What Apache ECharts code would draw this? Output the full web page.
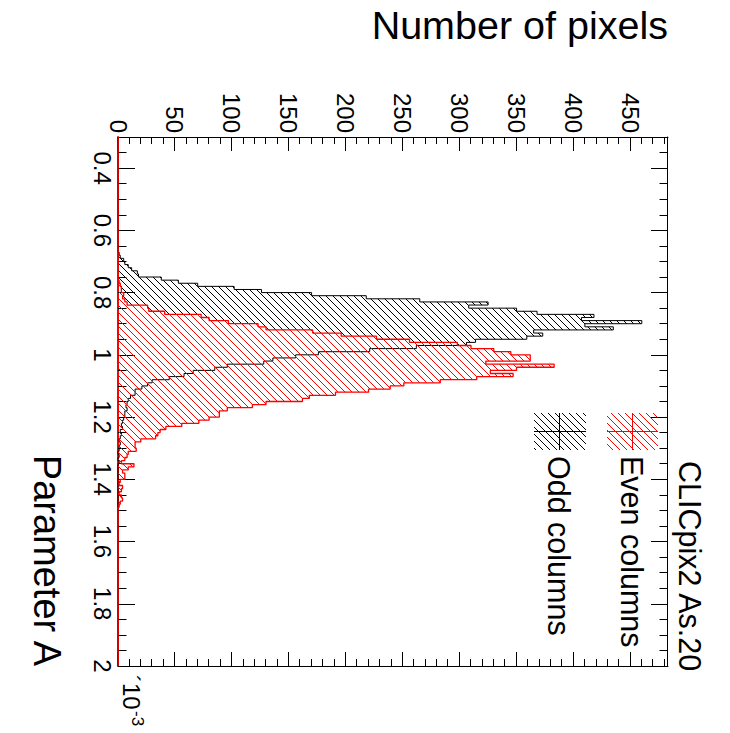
<!DOCTYPE html>
<html>
<head>
<meta charset="utf-8">
<script src="https://cdn.jsdelivr.net/npm/echarts@6/dist/echarts.min.js"></script>
<style>
  html, body { margin: 0; padding: 0; background: #fff; overflow: hidden; width: 730px; height: 733px; }
  /* The plot is laid out landscape (Parameter A along x) and turned a quarter clockwise. */
  #chart { position: absolute; left: 0; top: 0; width: 733px; height: 730px;
           transform-origin: 0 0; transform: translate(730px, 0) rotate(90deg); }
</style>
</head>
<body>
<div id="chart"></div>
<script>
// ---- Histogram binning: Parameter A (x 10^-3), 0.01 wide bins ----
const axisMin = 0.3;
const axisMax = 2.0;
const binWidth = 0.01;
const firstFilledBin = 0.66;   // low edge of the first entry in the count lists below

// Pixel counts per bin, starting at Parameter A = 0.66
const oddColumns = [
  0, 1, 2, 5, 6, 9, 12, 17, 18, 38,
  53, 70, 102, 126, 170, 218, 265, 325, 308, 350,
  368, 418, 407, 460, 410, 435, 365, 373, 359, 314,
  306, 262, 221, 176, 156, 136, 128, 96, 85, 66,
  58, 45, 30, 26, 21, 15, 15, 11, 9, 8,
  7, 8, 6, 6, 5, 4, 3, 4, 2, 3,
  2, 1, 2, 1, 1, 0, 1, 0, 1
];
const evenColumns = [
  0, 0, 0, 0, 0, 0, 0, 0, 0, 0,
  1, 2, 3, 3, 5, 4, 6, 8, 26, 27,
  41, 73, 80, 97, 123, 130, 171, 196, 227, 256,
  298, 310, 330, 345, 362, 362, 323, 383, 350, 327,
  347, 315, 283, 251, 239, 220, 191, 168, 162, 130,
  118, 96, 89, 89, 80, 71, 56, 42, 37, 35,
  33, 20, 15, 15, 16, 9, 8, 6, 3, 14,
  9, 4, 6, 6, 2, 1, 4, 3, 1, 3,
  4, 2, 1
];

// ---- Axis ticks ----
const paramTicks = [0.4, 0.6, 0.8, 1.0, 1.2, 1.4, 1.6, 1.8, 2.0];
const paramMinorTicks = [0.35, 0.45, 0.5, 0.55, 0.65, 0.7, 0.75, 0.85, 0.9, 0.95,
  1.05, 1.1, 1.15, 1.25, 1.3, 1.35, 1.45, 1.5, 1.55, 1.65, 1.7, 1.75, 1.85, 1.9, 1.95];
const countMax = 483;
const countTicks = [0, 50, 100, 150, 200, 250, 300, 350, 400, 450];
const countMinorTicks = [10, 20, 30, 40, 60, 70, 80, 90, 110, 120, 130, 140, 160, 170, 180, 190,
  210, 220, 230, 240, 260, 270, 280, 290, 310, 320, 330, 340, 360, 370, 380, 390,
  410, 420, 430, 440, 460, 470, 480];

const seriesNames = ['Odd columns', 'Even columns'];
const seriesColors = ['#000000', '#ff0000'];

const FONT = '"Liberation Sans", Arial, Helvetica, sans-serif';

// Step-histogram points: one point per bin low edge, plus the closing edge.
function histData(counts) {
  const nBins = Math.round((axisMax - axisMin) / binWidth);
  const offset = Math.round((firstFilledBin - axisMin) / binWidth);
  const pts = [];
  for (let i = 0; i < nBins; i++) {
    const k = i - offset;
    const c = (k >= 0 && k < counts.length) ? counts[k] : 0;
    pts.push([+(axisMin + i * binWidth).toFixed(4), c]);
  }
  pts.push([axisMax, pts[nBins - 1][1]]);
  return pts;
}

// Diagonal hatch fill
function hatch(color) {
  const s = 7;
  const cv = document.createElement('canvas');
  cv.width = s; cv.height = s;
  const g = cv.getContext('2d');
  g.fillStyle = color;
  for (let i = 0; i < s; i++) g.fillRect(i, s - 1 - i, 1, 1);
  return { image: cv, repeat: 'repeat' };
}

function tickAxis(kind, position, values, len, withLine, withLabels, lineColor) {
  const ax = {
    type: 'value',
    position: position,
    min: kind === 'x' ? axisMin : 0,
    max: kind === 'x' ? axisMax : countMax,
    z: 1,
    splitLine: { show: false },
    axisLine: { show: withLine, onZero: false,
                lineStyle: { color: lineColor || '#000', width: lineColor ? 2 : 1 } },
    axisTick: { show: true, inside: true, length: len, customValues: values,
                lineStyle: { color: '#000', width: 1 } },
    axisLabel: { show: false }
  };
  if (withLabels) {
    ax.axisLabel = kind === 'x'
      ? { show: true, customValues: values, margin: 4, color: '#000', fontSize: 24, fontFamily: FONT,
          formatter: v => String(+(+v).toFixed(1)) }
      : { show: true, customValues: values, margin: 4, color: '#000', fontSize: 24, fontFamily: FONT,
          formatter: v => String(Math.round(v)) };
  }
  return ax;
}

const chart = echarts.init(document.getElementById('chart'), null, { renderer: 'svg', width: 733, height: 730 });

const redHatch = hatch(seriesColors[1]);
const blackHatch = hatch(seriesColors[0]);

const option = {
  animation: false,
  backgroundColor: '#ffffff',
  textStyle: { fontFamily: FONT },
  grid: { left: 137, right: 67, top: 62, bottom: 118, containLabel: false },
  xAxis: [
    // the zero-count edge is overdrawn by the red histogram baseline
    tickAxis('x', 'bottom', paramTicks, 17, true, true, seriesColors[1]),
    tickAxis('x', 'bottom', paramMinorTicks, 8.5, false, false),
    tickAxis('x', 'top', paramTicks, 17, true, false),
    tickAxis('x', 'top', paramMinorTicks, 8.5, false, false)
  ],
  yAxis: [
    tickAxis('y', 'left', countTicks, 14, true, true),
    tickAxis('y', 'left', countMinorTicks, 7, false, false),
    tickAxis('y', 'right', countTicks, 14, true, false),
    tickAxis('y', 'right', countMinorTicks, 7, false, false)
  ],
  series: [
    {
      name: seriesNames[0], type: 'line', step: 'end', xAxisIndex: 0, yAxisIndex: 0,
      data: histData(oddColumns), symbol: 'none', silent: true, z: 5, clip: false,
      lineStyle: { color: seriesColors[0], width: 1 },
      areaStyle: { color: blackHatch, opacity: 1 }
    },
    {
      name: seriesNames[1], type: 'line', step: 'end', xAxisIndex: 0, yAxisIndex: 0,
      data: histData(evenColumns), symbol: 'none', silent: true, z: 6, clip: false,
      lineStyle: { color: seriesColors[1], width: 1.3 },
      areaStyle: { color: redHatch, opacity: 1 }
    }
  ],
  graphic: [
    // Axis titles
    { type: 'text', x: 666, y: 683, silent: true,
      style: { text: 'Parameter A', font: '38px ' + FONT, fill: '#000', textAlign: 'right', textVerticalAlign: 'middle' } },
    { type: 'text', x: 25, y: 62, rotation: Math.PI / 2, silent: true,
      style: { text: 'Number of pixels', font: '39.5px ' + FONT, fill: '#000', textAlign: 'right', textVerticalAlign: 'middle' } },
    // Axis multiplier
    { type: 'text', x: 675, y: 611, silent: true,
      style: { text: '\u00b410', font: '24px ' + FONT, fill: '#000', textAlign: 'left', textVerticalAlign: 'bottom' } },
    { type: 'text', x: 711, y: 601, silent: true,
      style: { text: '-3', font: '17px ' + FONT, fill: '#000', textAlign: 'left', textVerticalAlign: 'bottom' } },
    // Title
    { type: 'text', x: 461, y: 40, silent: true,
      style: { text: 'CLICpix2 As.20', font: '30.5px ' + FONT, fill: '#000', textAlign: 'left', textVerticalAlign: 'middle' } },
    // Legend: Even columns
    { type: 'rect', shape: { x: 413, y: 72, width: 37, height: 51 }, silent: true, style: { fill: redHatch } },
    { type: 'line', shape: { x1: 413, y1: 97.5, x2: 450, y2: 97.5 }, silent: true, style: { stroke: seriesColors[1], lineWidth: 1 } },
    { type: 'line', shape: { x1: 431.5, y1: 72, x2: 431.5, y2: 123 }, silent: true, style: { stroke: seriesColors[1], lineWidth: 1 } },
    { type: 'text', x: 456, y: 98, silent: true,
      style: { text: seriesNames[1], font: '30.5px ' + FONT, fill: '#000', textAlign: 'left', textVerticalAlign: 'middle' } },
    // Legend: Odd columns
    { type: 'rect', shape: { x: 413, y: 144, width: 37, height: 52 }, silent: true, style: { fill: blackHatch } },
    { type: 'line', shape: { x1: 413, y1: 170.5, x2: 450, y2: 170.5 }, silent: true, style: { stroke: seriesColors[0], lineWidth: 1 } },
    { type: 'line', shape: { x1: 431.5, y1: 144, x2: 431.5, y2: 196 }, silent: true, style: { stroke: seriesColors[0], lineWidth: 1 } },
    { type: 'text', x: 456, y: 171, silent: true,
      style: { text: seriesNames[0], font: '30.5px ' + FONT, fill: '#000', textAlign: 'left', textVerticalAlign: 'middle' } }
  ]
};

chart.setOption(option);
</script>
</body>
</html>
